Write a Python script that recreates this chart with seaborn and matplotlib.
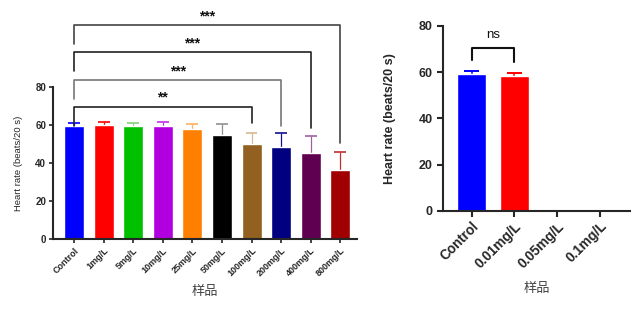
import matplotlib
matplotlib.use("Agg")
import matplotlib.pyplot as plt
import seaborn as sns
import pandas as pd

# left panel data
doses = ['Control', '1mg/L', '5mg/L', '10mg/L', '25mg/L', '50mg/L',
         '100mg/L', '200mg/L', '400mg/L', '800mg/L']
hr_mean = [59.5, 60.0, 59.5, 59.5, 57.9, 54.7, 50.0, 48.4, 45.3, 36.3]
hr_sd = [1.5, 1.4, 1.3, 1.9, 2.4, 5.6, 6.0, 7.4, 8.9, 9.7]
bar_colors = ['#0000FF', '#FF0000', '#00C000', '#B000E0', '#FF8000',
              '#000000', '#926020', '#000080', '#600050', '#A00000']
err_colors = ['#0000FF', '#FF0000', '#80D080', '#C030E8', '#FFB060',
              '#909090', '#D8B890', '#101090', '#A060A0', '#C03030']

# significance brackets: (start idx, end idx, label)
sig_pairs = [(0, 6, '**'), (0, 7, '***'), (0, 8, '***'), (0, 9, '***')]
sig_level = [69.6, 83.7, 98.3, 112.6]
sig_right_end = [60.9, 59.6, 58.3, 50.4]
sig_line_colors = ['#222222', '#777777', '#222222', '#444444']

# right panel data
doses2 = ['Control', '0.01mg/L', '0.05mg/L', '0.1mg/L']
hr_mean2 = [59.3, 58.4, 0, 0]
hr_sd2 = [1.4, 1.2, 0, 0]
bar_colors2 = ['#0000FF', '#FF0000', '#FFFFFF', '#FFFFFF']


def upper_err(ax, i, m, sd, col, cap, lw):
    # only the upper half of the error bar, as in the original
    ax.vlines(i, m, m + sd, color=col, lw=lw, zorder=1)
    ax.hlines(m + sd, i - cap, i + cap, color=col, lw=lw + 0.3, zorder=1)


sns.set_style("ticks")
plt.rcParams['font.family'] = ['Liberation Sans', 'Noto Sans CJK SC', 'DejaVu Sans']

fig = plt.figure(figsize=(6.39, 3.13), dpi=100)
ax1 = fig.add_axes([0.083, 0.2364, 0.476, 0.486])
ax2 = fig.add_axes([0.693, 0.326, 0.293, 0.591])

# ---- left panel ----
df1 = pd.DataFrame({'dose': doses, 'hr': hr_mean})
sns.barplot(data=df1, x='dose', y='hr', hue='dose', palette=bar_colors,
            width=0.68, legend=False, ax=ax1, saturation=1, zorder=2)
for i in range(len(doses)):
    upper_err(ax1, i, hr_mean[i], hr_sd[i], err_colors[i], 0.2, 0.9)
ax1.set_xlim(-0.71, 9.57)
ax1.set_ylim(0, 80)
ax1.set_yticks([0, 20, 40, 60, 80])
ax1.tick_params(axis='y', labelsize=7, width=1.2, length=3, pad=2)
ax1.tick_params(axis='x', labelsize=6.5, width=1.2, length=3, pad=2)
for lab in ax1.get_yticklabels():
    lab.set_fontweight('bold')
ax1.set_xticks(range(len(doses)))
ax1.set_xticklabels(doses, rotation=45, ha='right', rotation_mode='anchor',
                    fontweight='bold')
ax1.set_ylabel('Heart rate (beats/20 s)', fontsize=6.8, labelpad=9)
ax1.set_xlabel('样品', fontsize=9.5, color='#444444', labelpad=5,
               family=['Noto Sans CJK SC'])
for s in ['left', 'bottom']:
    ax1.spines[s].set_linewidth(1.5)
sns.despine(ax=ax1)

for k, (a, b, txt) in enumerate(sig_pairs):
    lvl = sig_level[k]
    col = sig_line_colors[k]
    ax1.plot([a, a, b, b], [lvl - 10.2, lvl, lvl, sig_right_end[k]], color=col,
             lw=1.2, clip_on=False)
    ax1.text((a + b) / 2, lvl + 4.6, txt, ha='center', va='center',
             fontsize=10, fontweight='bold', color='#111111', clip_on=False)

# ---- right panel ----
df2 = pd.DataFrame({'dose': doses2, 'hr': hr_mean2})
sns.barplot(data=df2, x='dose', y='hr', hue='dose', palette=bar_colors2,
            width=0.67, legend=False, ax=ax2, saturation=1, zorder=2)
for i in range(2):
    upper_err(ax2, i, hr_mean2[i], hr_sd2[i], bar_colors2[i], 0.17, 1.1)
ax2.set_xlim(-0.67, 3.7)
ax2.set_ylim(0, 80)
ax2.set_yticks([0, 20, 40, 60, 80])
ax2.tick_params(axis='y', labelsize=9, width=1.5, length=4)
ax2.tick_params(axis='x', labelsize=9.8, width=1.5, length=4, pad=2)
for lab in ax2.get_yticklabels():
    lab.set_fontweight('bold')
ax2.set_xticks(range(len(doses2)))
ax2.set_xticklabels(doses2, rotation=45, ha='right', rotation_mode='anchor',
                    fontweight='bold')
ax2.set_ylabel('Heart rate (beats/20 s)', fontsize=9, fontweight='bold', labelpad=16)
ax2.set_xlabel('样品', fontsize=9.5, color='#444444', labelpad=8,
               family=['Noto Sans CJK SC'])
for s in ['left', 'bottom']:
    ax2.spines[s].set_linewidth(1.5)
sns.despine(ax=ax2)

ax2.plot([0, 0, 1, 1], [65.4, 70.4, 70.4, 64.6], color='#111111', lw=1.5,
         clip_on=False)
ax2.text(0.5, 76, 'ns', ha='center', va='center', fontsize=9.5, color='#111111')

fig.savefig('out.png', dpi=100)
